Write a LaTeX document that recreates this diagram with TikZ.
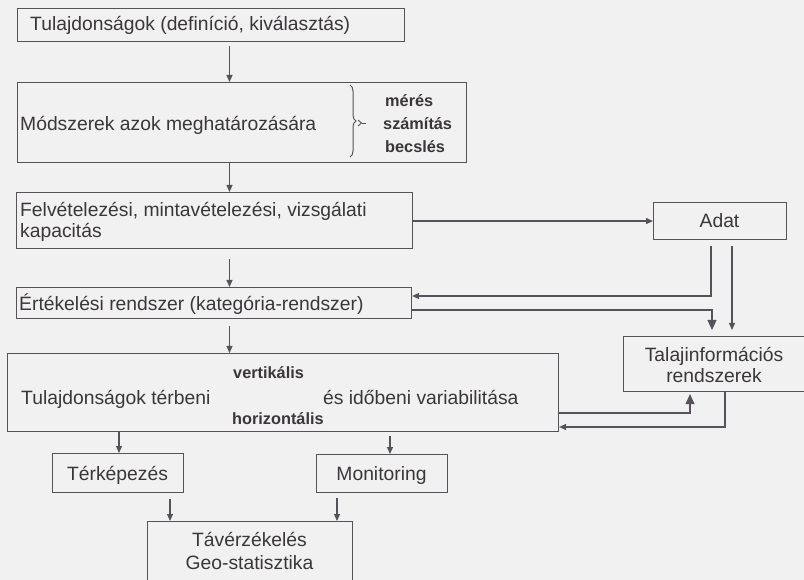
\documentclass[tikz,border=0pt]{standalone}
\usepackage{fontspec}
\setmainfont{Liberation Sans}
\usetikzlibrary{arrows.meta,decorations.pathreplacing}
\definecolor{linec}{HTML}{57525A}
\definecolor{txtc}{HTML}{3A363A}
\definecolor{bgc}{HTML}{F1F1F1}
\begin{document}
\begin{tikzpicture}[x=1pt,y=-1pt,
  box/.style={draw=linec, line width=1.1pt, inner sep=0pt, anchor=north west, rectangle},
  txt/.style={text=txtc, inner sep=0pt, font=\fontsize{19.3}{23}\selectfont},
  btxt/.style={text=txtc, inner sep=0pt, font=\fontsize{16.3}{20}\selectfont\bfseries},
  arr/.style={draw=linec, line width=1.1pt, -{Triangle[length=7pt,width=6pt]}},
  bigarr/.style={draw=linec, line width=1.1pt, -{Triangle[length=10pt,width=9pt]}}]
\fill[bgc] (0,0) rectangle (804,580);
\useasboundingbox (0,0) rectangle (804,580);

% boxes
\node[box, minimum width=387pt, minimum height=33pt] (b1) at (17,8) {};
\node[box, minimum width=449pt, minimum height=80pt] (b2) at (17,82) {};
\node[box, minimum width=396pt, minimum height=56pt] (b3) at (16,192) {};
\node[box, minimum width=395pt, minimum height=31pt] (b4) at (16,287) {};
\node[box, minimum width=551pt, minimum height=78pt] (b5) at (7,353) {};
\node[box, minimum width=133pt, minimum height=37pt] (adat) at (653,202) {};
\node[box, minimum width=185pt, minimum height=55pt] (talaj) at (623,336) {};
\node[box, minimum width=131pt, minimum height=39pt] (terk) at (52,453) {};
\node[box, minimum width=131pt, minimum height=38pt] (mon) at (316,454) {};
\node[box, minimum width=205pt, minimum height=80pt] (tav) at (147,521) {};

% texts
\node[txt, anchor=base west] (t1) at (30,31) {Tulajdonságok (definíció, kiválasztás)};
\node[txt, anchor=base west] (t2) at (20,131) {Módszerek azok meghatározására};
\node[btxt, anchor=base west] (m1) at (385,107) {mérés};
\node[btxt, anchor=base west] (m2) at (383,130) {számítás};
\node[btxt, anchor=base west] (m3) at (385,153) {becslés};
\node[txt, anchor=base west] (t3a) at (20,217) {Felvételezési, mintavételezési, vizsgálati};
\node[txt, anchor=base west] (t3b) at (20,238) {kapacitás};
\node[txt, anchor=base west] (t4) at (19,311) {Értékelési rendszer (kategória-rendszer)};
\node[txt, anchor=base west] (t5a) at (21,404) {Tulajdonságok térbeni};
\node[txt, anchor=base west] (t5b) at (323,404) {és időbeni variabilitása};
\node[btxt, anchor=base west] (v1) at (233,378) {vertikális};
\node[btxt, anchor=base west] (v2) at (232,424) {horizontális};
\node[txt, anchor=base] (ta) at (719.5,228) {Adat};
\node[txt, anchor=base] (tt1) at (714,361) {Talajinformációs};
\node[txt, anchor=base] (tt2) at (714,382) {rendszerek};
\node[txt, anchor=base] (tterk) at (117.5,480) {Térképezés};
\node[txt, anchor=base] (tmon) at (381.5,480) {Monitoring};
\node[txt, anchor=base] (tv1) at (249.5,546) {Távérzékelés};
\node[txt, anchor=base] (tv2) at (249.5,569) {Geo-statisztika};

% brace
\draw[linec, line width=1pt, decorate, decoration={brace, amplitude=6pt}] (350,85) -- (350,157);
\draw[linec, line width=0.9pt] (358,120) -- (361.5,123) -- (358,126);
\draw[linec, line width=0.9pt] (361.5,123) -- (366,123);

% helper coordinates
\coordinate (xa) at (229.5,0);
\coordinate (xt) at (119,0);
\coordinate (xm) at (390,0);
\coordinate (xt2) at (170,0);
\coordinate (xm2) at (337,0);
\coordinate (xr2) at (732,0);
\coordinate (k1) at (711,296);
\coordinate (k2) at (712,310);
\coordinate (k3) at (690,413);
\coordinate (k4) at (725,427);

% connectors
\draw[arr, shorten <=4pt] (b1.south -| xa) -- (b2.north -| xa);
\draw[arr] (b2.south -| xa) -- (b3.north -| xa);
\draw[arr, shorten <=10pt] (b3.south -| xa) -- (b4.north -| xa);
\draw[arr, shorten <=7pt] (b4.south -| xa) -- (b5.north -| xa);
\draw[arr] (b3.east |- adat.west) -- (adat.west);
\draw[arr, shorten <=6pt] (adat.south -| k1) -- (k1) -- (b4.east |- k1);
\draw[arr, shorten <=6pt, shorten >=6pt] (adat.south -| xr2) -- (talaj.north -| xr2);
\draw[bigarr, shorten >=6pt] (b4.east |- k2) -- (k2) -- (talaj.north -| k2);
\draw[bigarr, shorten >=2pt] (b5.east |- k3) -- (k3) -- (talaj.south -| k3);
\draw[arr] (talaj.south -| k4) -- (k4) -- (b5.east |- k4);
\draw[arr] (b5.south -| xt) -- (terk.north -| xt);
\draw[arr, shorten <=4pt] (b5.south -| xm) -- (mon.north -| xm);
\draw[arr, shorten <=6pt] (terk.south -| xt2) -- (tav.north -| xt2);
\draw[arr, shorten <=5pt] (mon.south -| xm2) -- (tav.north -| xm2);
\end{tikzpicture}
\end{document}
